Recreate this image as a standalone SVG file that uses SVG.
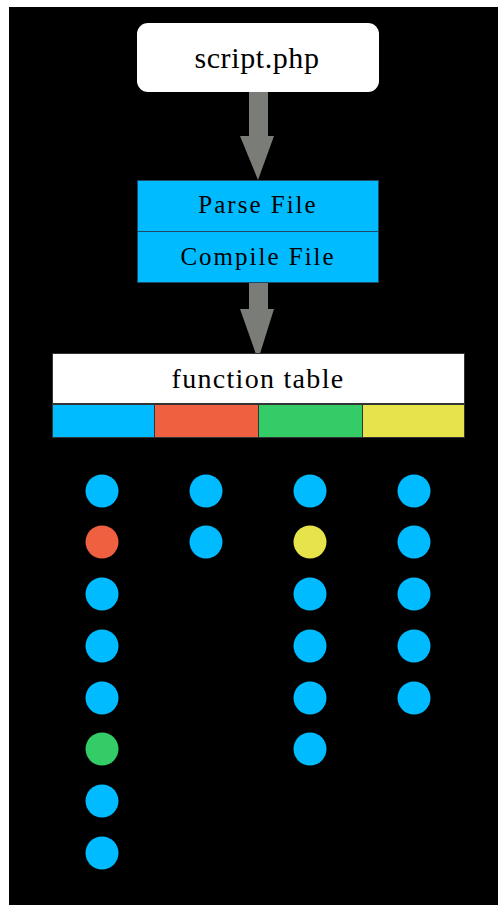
<svg xmlns="http://www.w3.org/2000/svg" width="498" height="905" viewBox="0 0 498 905">
<style>
text{font-family:"Liberation Serif","DejaVu Serif",serif;fill:#000;text-anchor:middle}
.b{fill:#00BBFF}.o{fill:#EE6040}.g{fill:#33CC66}.y{fill:#E6E44A}
.arrow{fill:#7A7C78}
</style>
<rect x="0" y="0" width="498" height="905" fill="#fff"/>
<rect x="9" y="7" width="489" height="898" fill="#000"/>
<g id="connectors">
<path class="arrow" d="M249,92 H268 V136 H274 L258,180 L240,136 H249 Z"/>
<path class="arrow" d="M249,283 H268 V309 H274 L258,360 L240,309 H249 Z"/>
</g>
<g id="script">
<rect x="137" y="23" width="242" height="69" rx="11" fill="#fff"/>
<text x="257" y="68" font-size="30" letter-spacing="0.6">script.php</text>
</g>
<g id="parse">
<rect x="137.5" y="180.5" width="241" height="51" fill="#00BBFF" stroke="#1E4A66"/>
<text x="258" y="213" font-size="25" letter-spacing="2">Parse File</text>
</g>
<g id="compile">
<rect x="137.5" y="231.5" width="241" height="51" fill="#00BBFF" stroke="#1E4A66"/>
<text x="258" y="265" font-size="25" letter-spacing="2">Compile File</text>
</g>
<g id="function-table">
<rect x="52.5" y="353.5" width="412" height="50" fill="#fff" stroke="#333"/>
<text x="258" y="388" font-size="28" letter-spacing="1.3">function table</text>
<rect class="b" x="52.5" y="404.5" width="102" height="33" stroke="#333"/>
<rect class="o" x="154.5" y="404.5" width="104" height="33" stroke="#333"/>
<rect class="g" x="258.5" y="404.5" width="104" height="33" stroke="#333"/>
<rect class="y" x="362.5" y="404.5" width="102" height="33" stroke="#333"/>
</g>
<g id="col1">
<circle class="b" cx="102" cy="491" r="16.5"/>
<circle class="o" cx="102" cy="542" r="16.5"/>
<circle class="b" cx="102" cy="594" r="16.5"/>
<circle class="b" cx="102" cy="646" r="16.5"/>
<circle class="b" cx="102" cy="698" r="16.5"/>
<circle class="g" cx="102" cy="749" r="16.5"/>
<circle class="b" cx="102" cy="801" r="16.5"/>
<circle class="b" cx="102" cy="853" r="16.5"/>
</g>
<g id="col2">
<circle class="b" cx="206" cy="491" r="16.5"/>
<circle class="b" cx="206" cy="542" r="16.5"/>
</g>
<g id="col3">
<circle class="b" cx="310" cy="491" r="16.5"/>
<circle class="y" cx="310" cy="542" r="16.5"/>
<circle class="b" cx="310" cy="594" r="16.5"/>
<circle class="b" cx="310" cy="646" r="16.5"/>
<circle class="b" cx="310" cy="698" r="16.5"/>
<circle class="b" cx="310" cy="749" r="16.5"/>
</g>
<g id="col4">
<circle class="b" cx="414" cy="491" r="16.5"/>
<circle class="b" cx="414" cy="542" r="16.5"/>
<circle class="b" cx="414" cy="594" r="16.5"/>
<circle class="b" cx="414" cy="646" r="16.5"/>
<circle class="b" cx="414" cy="698" r="16.5"/>
</g>
</svg>
